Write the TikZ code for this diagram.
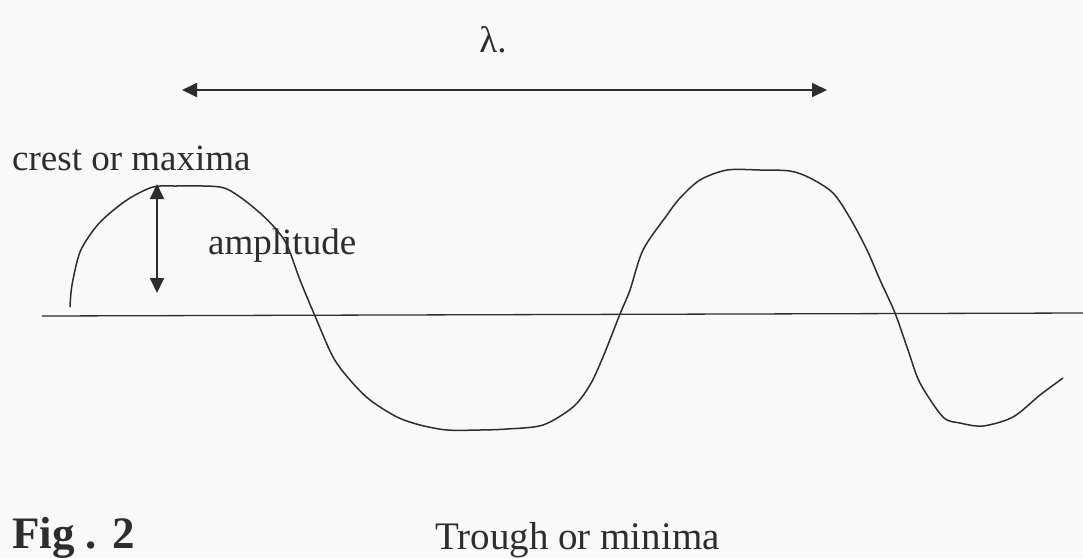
\documentclass[tikz,border=0pt]{standalone}
\usepackage{fontspec}
\setmainfont{Liberation Serif}
\usetikzlibrary{arrows.meta}
\definecolor{ink}{RGB}{45,45,45}
\definecolor{paper}{RGB}{249,249,249}
\tikzset{
  lbl/.style={inner sep=0pt, text=ink, font=\fontsize{37}{40}\selectfont},
  dim/.style={draw=ink, line width=1.8pt, {Triangle[length=15pt,width=14pt]}-{Triangle[length=15pt,width=14pt]}},
  curve/.style={draw=ink, line width=1.5pt},
  axisline/.style={draw=ink, line width=1.3pt}
}
\begin{document}
\begin{tikzpicture}[x=1pt,y=-1pt]
\fill[paper] (0,0) rectangle (1083,558);
\useasboundingbox (0,0) rectangle (1083,558);
% labels
\node[lbl, anchor=base] (lam) at (493,52) {λ.};
\node[lbl, anchor=base west] (crest) at (12,170) {crest or maxima};
\node[lbl, anchor=base west] (amp) at (208,254) {amplitude};
\node[lbl, anchor=base west, font=\fontsize{39}{42}\selectfont] (trough) at (435,549) {Trough or minima};
\node[lbl, anchor=base west, font=\fontsize{45}{48}\selectfont\bfseries] (fig) at (12,548) {Fig . 2};
% coordinates
\coordinate (lamL) at (182,90);
\coordinate (lamR) at (827,90);
\coordinate (ampT) at (157,184);
\coordinate (ampB) at (157,293);
\coordinate (axL) at (42,316);
\coordinate (axR) at (1083,313);
% axis
\draw[axisline] (axL) -- (axR);
% arrows
\draw[dim] (lamL) -- (lamR);
\draw[dim] (ampB) -- (ampT);
% wave
\draw[curve] plot[smooth, tension=0.5] coordinates {
(70,307) (72,285) (80,252) (95,228) (110,213) (130,198) (153,187) (175,186)
(220,187) (240,197) (260,213) (275,228) (287,245) (300,280) (315,316) (333,357)
(350,380) (370,400) (397,417) (420,425) (447,430) (480,430) (507,429) (543,425)
(573,407) (590,385) (603,357) (620,314) (630,290) (643,250) (667,215) (680,198)
(700,180) (727,170) (760,170) (790,171) (810,178) (833,193) (850,218) (867,250)
(880,280) (895,313) (908,350) (920,383) (943,417) (960,423) (983,426) (1013,417)
(1040,395) (1063,378)};
\end{tikzpicture}
\end{document}
